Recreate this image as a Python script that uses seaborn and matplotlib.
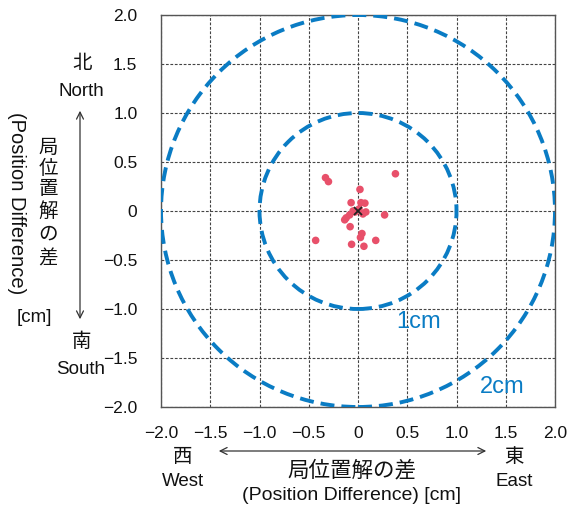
import matplotlib
matplotlib.use("Agg")
import matplotlib.pyplot as plt
from matplotlib.patches import Circle, FancyArrowPatch
import seaborn as sns
import pandas as pd

# East-west / north-south differences of each position solution [cm]
east_cm = [-0.33, -0.30, 0.38, 0.02, -0.07, 0.03, 0.07, 0.08, -0.05, -0.03,
           0.27, -0.085, -0.12, -0.135, -0.08, 0.04, 0.025, 0.18, -0.43,
           -0.065, 0.06, 0.01, 0.05]
north_cm = [0.34, 0.30, 0.38, 0.22, 0.085, 0.085, 0.08, -0.01, 0.0, -0.01,
            -0.04, -0.04, -0.07, -0.09, -0.16, -0.23, -0.27, -0.30, -0.30,
            -0.34, -0.36, 0.02, -0.03]
ring_radii = [1.0, 2.0]
ring_labels = ["1cm", "2cm"]
tick_values = [-2.0, -1.5, -1.0, -0.5, 0.0, 0.5, 1.0, 1.5, 2.0]
tick_labels = ["\u22122.0", "\u22121.5", "\u22121.0", "\u22120.5", "0",
               "0.5", "1.0", "1.5", "2.0"]

sns.set_style("white")
plt.rcParams["font.family"] = ["Liberation Sans", "Noto Sans CJK JP"]
CJK = ["Noto Sans CJK JP", "Liberation Sans"]

fig = plt.figure(figsize=(5.82, 5.07), dpi=100)
ax = fig.add_axes([161 / 582, 1 - 407 / 507, 394 / 582, 392 / 507])

df = pd.DataFrame({"east": east_cm, "north": north_cm})
sns.scatterplot(data=df, x="east", y="north", ax=ax, color="#e8506a",
                s=30, edgecolor="none", zorder=4)
ax.plot([0], [0], marker="x", color="#222222", ms=6, mew=1.3, zorder=5)

ring_color = "#0a7cc4"
for r in ring_radii:
    ax.add_patch(Circle((0, 0), r, fill=False, edgecolor=ring_color,
                        lw=2.8, linestyle=(0, (3.6, 1.8)), zorder=3))

ax.set_xlim(-2, 2)
ax.set_ylim(-2, 2)
ax.set_xticks(tick_values)
ax.set_yticks(tick_values)
ax.set_xticklabels(tick_labels)
ax.set_yticklabels(tick_labels)
ax.tick_params(length=0, labelsize=12.5, colors="#111111")
ax.tick_params(axis="x", pad=14)
ax.tick_params(axis="y", pad=17)
ax.set_xlabel("")
ax.set_ylabel("")
ax.grid(True, color="#444444", linestyle=(0, (2.5, 1.5)), linewidth=0.8)
for sp in ax.spines.values():
    sp.set_color("#555555")
    sp.set_linewidth(1.0)

ax.text(0.61, -1.13, ring_labels[0], color=ring_color, fontsize=17,
        ha="center", va="center")
ax.text(1.46, -1.80, ring_labels[1], color=ring_color, fontsize=17,
        ha="center", va="center")

def px(x, y):
    return (x / 582, 1 - y / 507)

tkw = dict(transform=fig.transFigure, ha="center", va="center",
           color="#111111")
# Vertical axis annotations
fig.text(*px(82, 64), "北", fontsize=14, family=CJK, **tkw)
fig.text(*px(81, 92), "North", fontsize=13.5, **tkw)
fig.text(*px(82, 341), "南", fontsize=14, family=CJK, **tkw)
fig.text(*px(81, 370), "South", fontsize=13.5, **tkw)
for ch, yy in zip("局位置解の差", [148, 168, 189, 211, 234, 259]):
    fig.text(*px(48, yy), ch, fontsize=14, family=CJK, **tkw)
fig.text(*px(16, 203), "(Position Difference)", fontsize=14.5,
         rotation=-90, **tkw)
fig.text(*px(34, 318), "[cm]", fontsize=13.5, **tkw)
fig.add_artist(FancyArrowPatch(
    px(80, 108), px(80, 322), transform=fig.transFigure,
    arrowstyle="<->,head_length=5,head_width=2.5", color="#333333",
    lw=0.9))

# Horizontal axis annotations
fig.text(*px(183, 456), "西", fontsize=14, family=CJK, **tkw)
fig.text(*px(183, 482), "West", fontsize=13.5, **tkw)
fig.text(*px(514, 456), "東", fontsize=14, family=CJK, **tkw)
fig.text(*px(514, 482), "East", fontsize=13.5, **tkw)
fig.text(*px(352, 470), "局位置解の差", fontsize=15.5, family=CJK, **tkw)
fig.text(*px(352, 496), "(Position Difference) [cm]", fontsize=14, **tkw)
fig.add_artist(FancyArrowPatch(
    px(216, 451), px(489, 451), transform=fig.transFigure,
    arrowstyle="<->,head_length=5,head_width=2.5", color="#333333",
    lw=0.9))

fig.savefig("out.png", dpi=100)
